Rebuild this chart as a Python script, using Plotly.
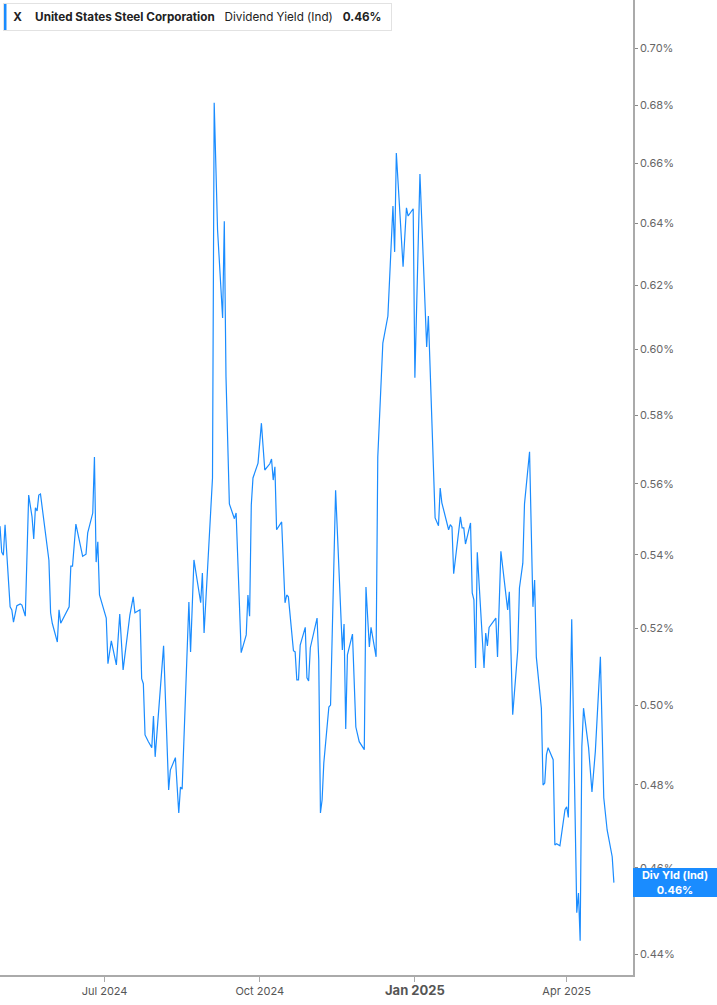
import numpy as np
import plotly.graph_objects as go

# ---- data ----
dates = [
    "2024-04-30", "2024-05-01", "2024-05-02", "2024-05-03", "2024-05-04", "2024-05-06", "2024-05-07", "2024-05-08",
    "2024-05-10", "2024-05-12", "2024-05-13", "2024-05-15", "2024-05-17", "2024-05-19", "2024-05-20", "2024-05-21",
    "2024-05-22", "2024-05-23", "2024-05-24", "2024-05-29", "2024-05-30", "2024-05-31", "2024-06-03", "2024-06-04",
    "2024-06-05", "2024-06-10", "2024-06-11", "2024-06-12", "2024-06-14", "2024-06-18", "2024-06-20", "2024-06-21",
    "2024-06-24", "2024-06-25", "2024-06-26", "2024-06-27", "2024-06-28", "2024-07-02", "2024-07-03", "2024-07-05",
    "2024-07-08", "2024-07-10", "2024-07-12", "2024-07-16", "2024-07-18", "2024-07-19", "2024-07-22", "2024-07-23",
    "2024-07-24", "2024-07-25", "2024-07-27", "2024-07-29", "2024-07-30", "2024-07-31", "2024-08-05", "2024-08-08",
    "2024-08-09", "2024-08-12", "2024-08-14", "2024-08-15", "2024-08-16", "2024-08-20", "2024-08-21", "2024-08-23",
    "2024-08-27", "2024-08-28", "2024-08-29", "2024-08-31", "2024-09-01", "2024-09-03", "2024-09-04", "2024-09-06",
    "2024-09-09", "2024-09-10", "2024-09-11", "2024-09-13", "2024-09-16", "2024-09-17", "2024-09-20", "2024-09-23",
    "2024-09-24", "2024-09-25", "2024-09-26", "2024-09-27", "2024-09-30", "2024-10-02", "2024-10-04", "2024-10-07",
    "2024-10-08", "2024-10-09", "2024-10-10", "2024-10-11", "2024-10-14", "2024-10-16", "2024-10-17", "2024-10-18",
    "2024-10-21", "2024-10-22", "2024-10-23", "2024-10-24", "2024-10-25", "2024-10-28", "2024-10-29", "2024-10-30",
    "2024-10-31", "2024-11-04", "2024-11-05", "2024-11-06", "2024-11-07", "2024-11-08", "2024-11-11", "2024-11-12",
    "2024-11-15", "2024-11-19", "2024-11-20", "2024-11-21", "2024-11-22", "2024-11-25", "2024-11-27", "2024-11-29",
    "2024-12-02", "2024-12-03", "2024-12-05", "2024-12-06", "2024-12-09", "2024-12-10", "2024-12-13", "2024-12-16",
    "2024-12-19", "2024-12-20", "2024-12-21", "2024-12-25", "2024-12-27", "2024-12-28", "2024-12-31", "2025-01-01",
    "2025-01-04", "2025-01-08", "2025-01-09", "2025-01-13", "2025-01-15", "2025-01-16", "2025-01-17", "2025-01-21",
    "2025-01-22", "2025-01-23", "2025-01-24", "2025-01-26", "2025-01-28", "2025-01-29", "2025-01-30", "2025-01-31",
    "2025-02-03", "2025-02-04", "2025-02-05", "2025-02-06", "2025-02-07", "2025-02-11", "2025-02-12", "2025-02-13",
    "2025-02-14", "2025-02-18", "2025-02-19", "2025-02-21", "2025-02-25", "2025-02-26", "2025-02-28", "2025-03-03",
    "2025-03-04", "2025-03-06", "2025-03-07", "2025-03-10", "2025-03-12", "2025-03-13", "2025-03-14", "2025-03-17",
    "2025-03-18", "2025-03-19", "2025-03-20", "2025-03-21", "2025-03-24", "2025-03-25", "2025-03-26", "2025-03-28",
    "2025-03-31", "2025-04-01", "2025-04-02", "2025-04-04", "2025-04-07", "2025-04-08", "2025-04-09", "2025-04-10",
    "2025-04-11", "2025-04-14", "2025-04-16", "2025-04-18", "2025-04-21", "2025-04-23", "2025-04-25", "2025-04-28",
    "2025-04-29",
]

div_yield = [
    0.5480, 0.5408, 0.5399, 0.5484, 0.5405, 0.5258, 0.5250, 0.5217,
    0.5261, 0.5266, 0.5263, 0.5233, 0.5568, 0.5506, 0.5444, 0.5532,
    0.5523, 0.5568, 0.5571, 0.5385, 0.5242, 0.5214, 0.5164, 0.5250,
    0.5214, 0.5258, 0.5369, 0.5369, 0.5486, 0.5396, 0.5402, 0.5461,
    0.5517, 0.5678, 0.5380, 0.5436, 0.5290, 0.5228, 0.5107, 0.5167,
    0.5104, 0.5239, 0.5091, 0.5236, 0.5285, 0.5242, 0.5250, 0.5068,
    0.5055, 0.4924, 0.4907, 0.4892, 0.4972, 0.4869, 0.5154, 0.4787,
    0.4836, 0.4867, 0.4731, 0.4794, 0.4789, 0.5271, 0.5138, 0.5386,
    0.5269, 0.5350, 0.5188, 0.5358, 0.5447, 0.5617, 0.6808, 0.6378,
    0.6097, 0.6407, 0.5916, 0.5543, 0.5501, 0.5517, 0.5136, 0.5183,
    0.5290, 0.5233, 0.5540, 0.5617, 0.5660, 0.5777, 0.5640, 0.5658,
    0.5672, 0.5611, 0.5649, 0.5470, 0.5492, 0.5269, 0.5290, 0.5285,
    0.5141, 0.5138, 0.5065, 0.5065, 0.5156, 0.5203, 0.5070, 0.5062,
    0.5149, 0.5228, 0.5117, 0.4731, 0.4763, 0.4854, 0.4995, 0.5000,
    0.5582, 0.5143, 0.5212, 0.4939, 0.5130, 0.5185, 0.4944, 0.4907,
    0.4887, 0.5312, 0.5151, 0.5203, 0.5125, 0.5678, 0.6019, 0.6103,
    0.6457, 0.6307, 0.6635, 0.6259, 0.6451, 0.6424, 0.6448, 0.5913,
    0.6564, 0.6007, 0.6103, 0.5503, 0.5481, 0.5588, 0.5546, 0.5470,
    0.5484, 0.5478, 0.5348, 0.5425, 0.5506, 0.5475, 0.5475, 0.5430,
    0.5489, 0.5296, 0.5277, 0.5096, 0.5407, 0.5096, 0.5188, 0.5154,
    0.5203, 0.5228, 0.5125, 0.5410, 0.5250, 0.5299, 0.4975, 0.5143,
    0.5309, 0.5377, 0.5543, 0.5693, 0.5258, 0.5331, 0.5125, 0.4992,
    0.4799, 0.4804, 0.4874, 0.4892, 0.4862, 0.4654, 0.4657, 0.4652,
    0.4739, 0.4746, 0.4720, 0.5225, 0.4495, 0.4541, 0.4431, 0.4894,
    0.4992, 0.4892, 0.4782, 0.4882, 0.5125, 0.4768, 0.4690, 0.4626,
    0.4565,
]

x_tick_dates = ["2024-07-01", "2024-10-01", "2025-01-01", "2025-04-01"]
x_tick_labels = ["Jul 2024", "Oct 2024", "Jan 2025", "Apr 2025"]
y_tick_values = [0.44, 0.46, 0.48, 0.50, 0.52, 0.54, 0.56, 0.58, 0.60, 0.62, 0.64, 0.66, 0.68, 0.70]

ticker = "X"
company = "United States Steel Corporation"
metric = "Dividend Yield (Ind)"
tag_title = "Div Yld (Ind)"

# ---- styling ----
BLUE = "#1a8cff"
FONT = "Inter"
W, H = 717, 1005
ML, MR, MT, MB = 0, 84, 0, 30
PW, PH = W - ML - MR, H - MT - MB

last_txt = f"{div_yield[-1]:.2f}%"

x_ticktext = [
    f'<span style="font-size:13px;font-weight:bold;color:#555">{t}</span>' if t.startswith("Jan") else t
    for t in x_tick_labels
]

fig = go.Figure()
fig.add_trace(go.Scatter(
    x=dates, y=div_yield, mode="lines",
    line=dict(color=BLUE, width=1.2),
    hoverinfo="skip", showlegend=False,
))

fig.update_layout(
    width=W, height=H,
    margin=dict(l=ML, r=MR, t=MT, b=MB),
    paper_bgcolor="white", plot_bgcolor="white",
    font=dict(family=FONT, size=11, color="#555"),
    showlegend=False,
    xaxis=dict(
        type="date",
        range=["2024-04-30", "2025-05-10 08:00"],
        showgrid=False, zeroline=False,
        showline=True, linecolor="#aaaaaa", linewidth=1.5,
        ticks="outside", ticklen=5, tickcolor="#aaaaaa", tickwidth=1,
        tickvals=x_tick_dates, ticktext=x_ticktext,
        tickfont=dict(family=FONT, size=11, color="#555"),
    ),
    yaxis=dict(
        type="log", side="right",
        range=[np.log10(0.4354), np.log10(0.7176)],
        showgrid=False, zeroline=False,
        showline=True, linecolor="#aaaaaa", linewidth=1.5,
        ticks="outside", ticklen=3, tickcolor="#888888", tickwidth=1,
        tickvals=y_tick_values,
        ticktext=[f"{v:.2f}%" for v in y_tick_values],
        tickfont=dict(family=FONT, size=11, color="#666"),
    ),
)

# legend-like header box
fig.add_annotation(
    xref="paper", yref="paper", x=3 / PW, y=1 - 3 / PH,
    xanchor="left", yanchor="top", align="left", showarrow=False,
    text=(f"&nbsp;<b>{ticker}</b>&nbsp;&nbsp;&nbsp;&nbsp;<b>{company}</b>&nbsp;&nbsp;&nbsp;"
          f"{metric}&nbsp;&nbsp;&nbsp;<b>{last_txt}</b>&nbsp;"),
    font=dict(family=FONT, size=11.7, color="#222"),
    bgcolor="rgba(255,255,255,0)", bordercolor="#e2e2e2", borderwidth=1, borderpad=6,
)
fig.add_shape(
    type="rect", xref="paper", yref="paper", layer="above",
    x0=3 / PW, x1=6.5 / PW, y0=1 - 30 / PH, y1=1 - 3 / PH,
    fillcolor=BLUE, line=dict(width=0),
)

# last value tag on the right axis
fig.add_annotation(
    xref="paper", yref="y", x=1, y=np.log10(div_yield[-1]),
    xanchor="left", yanchor="middle", showarrow=False, align="center",
    text=f"<b>{tag_title}</b><br><b>{last_txt}</b>",
    font=dict(family=FONT, size=11, color="white"),
    bgcolor=BLUE, borderwidth=0, borderpad=1, width=82, height=27,
)

fig.write_html(
    "out.html",
    config={"displayModeBar": False},
    post_script="document.body.style.margin='0px';document.body.style.padding='0px';",
)
